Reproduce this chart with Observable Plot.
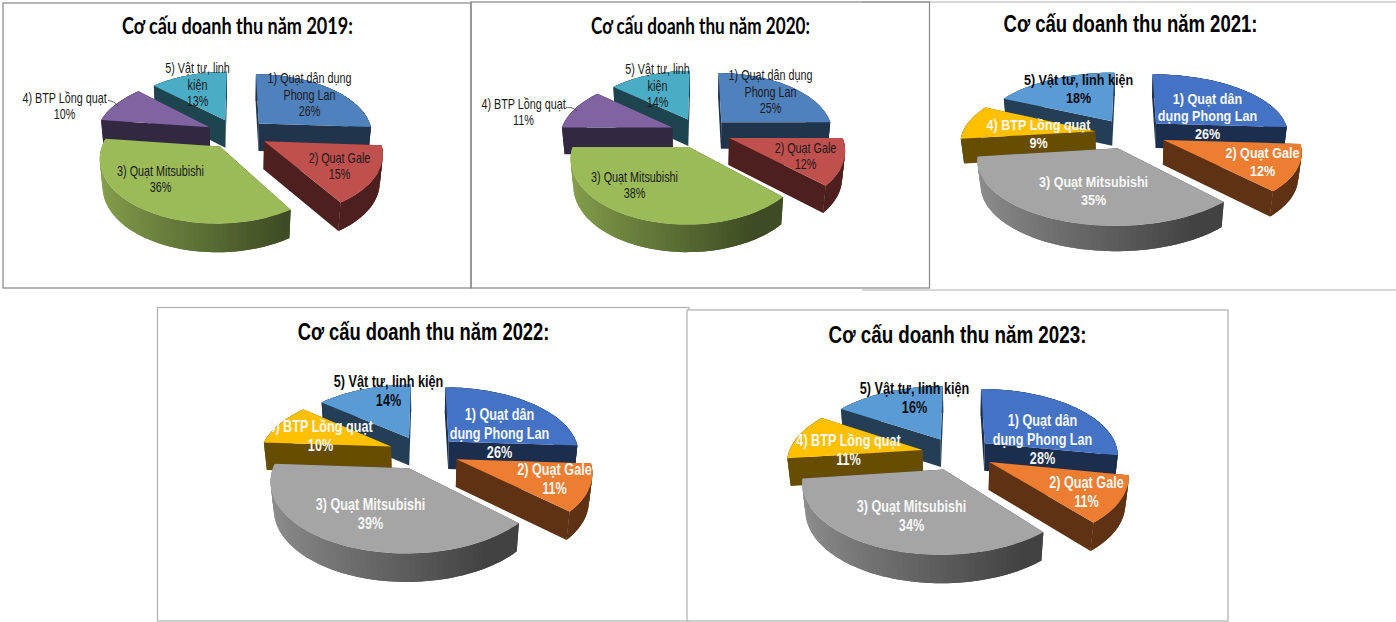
<!DOCTYPE html>
<html>
<head>
<meta charset="utf-8">
<style>html,body{margin:0;padding:0;background:#fff;overflow:hidden}svg{display:block}</style>
<script src="https://cdn.jsdelivr.net/npm/d3@7"></script>
<script src="https://cdn.jsdelivr.net/npm/@observablehq/plot@0.6"></script>
</head>
<body>
<div id="chart"></div>
<script>
const years = [2019, 2020, 2021, 2022, 2023];
const shares2019 = [26, 15, 36, 10, 13];
const shares2020 = [25, 12, 38, 11, 14];
const shares2021 = [26, 12, 35, 9, 18];
const shares2022 = [26, 11, 39, 10, 14];
const shares2023 = [28, 11, 34, 11, 16];
const sharesByPanel = [shares2019, shares2020, shares2021, shares2022, shares2023];

const namesWrappedA = ["1) Quạt dân dụng\nPhong Lan", "2) Quạt Gale", "3) Quạt Mitsubishi", "4) BTP Lồng quạt", "5) Vật tư, linh\nkiện"];
const namesWrappedB = ["1) Quạt dân\ndụng Phong Lan", "2) Quạt Gale", "3) Quạt Mitsubishi", "4) BTP Lồng quạt", "5) Vật tư, linh kiện"];

const paletteOld = ["#4f81bd", "#c0504d", "#9bbb59", "#8064a2", "#4bacc6"];
const paletteNew = ["#4472c4", "#ed7d31", "#a5a5a5", "#ffc000", "#5b9bd5"];

// layout, one entry per panel
const pieLayout = [
  {cx: 236.5, cy: 133, rx: 114, ry: 60, d: 28},
  {cx: 700, cy: 132, rx: 112, ry: 60, d: 27},
  {cx: 1130, cy: 133, rx: 133, ry: 60, d: 25},
  {cx: 423, cy: 452, rx: 131, ry: 66, d: 28},
  {cx: 957, cy: 453, rx: 134, ry: 66, d: 28}
];
const titleLayout = [[237, 26], [700, 26], [1130, 24], [423, 332], [957, 335]];
const titleWidths = [231, 219, 254, 252, 258];
const labelLayout = [
  [[309, 94], [339, 165], [160, 178], [64, 105], [197, 84]],
  [[770, 91], [805, 155], [634, 184], [523, 111], [657, 85]],
  [[1207, 115], [1262, 161], [1093, 190], [1038, 133], [1078, 88]],
  [[499, 432], [554, 478], [370, 513], [320, 435], [388, 390]],
  [[1042, 438], [1086, 491], [911, 515], [848, 449], [914, 397]]
];
const leaderLines = [
  [[108, 100], [113, 101], [117, 105]],
  [[566, 107], [572, 107], [576, 110]]
];

const explodeX = 0.27, explodeY = 0.25, persp = 0.16, step = Math.PI / 90;

function project(p, X, Y, z) {
  const s = 1 / (1 - persp * Y + 0.02 * z);
  return [p.cx + p.rx * X * s, p.cy + p.ry * Y * s + p.d * z * Math.sqrt(s)];
}
function shade(color, f) {
  const c = d3.rgb(color);
  return d3.rgb(c.r * f, c.g * f, c.b * f).formatHex();
}

const faces = [];
function addFace(id, color, pts) {
  pts.forEach(([x, y]) => faces.push({id, color, x, y}));
}

const paintOrder = [4, 3, 0, 1, 2];
sharesByPanel.forEach((shares, pi) => {
  const p = pieLayout[pi];
  const palette = pi < 2 ? paletteOld : paletteNew;
  const total = d3.sum(shares);
  const cum = d3.cumsum(shares);
  paintOrder.forEach(i => {
    const a0 = (cum[i] - shares[i]) / total * 2 * Math.PI;
    const a1 = cum[i] / total * 2 * Math.PI;
    const mid = (a0 + a1) / 2;
    const ox = explodeX * Math.sin(mid), oy = -explodeY * Math.cos(mid);
    const pt = (a, z) => project(p, ox + Math.sin(a), oy - Math.cos(a), z);
    const apex = z => project(p, ox, oy, z);
    const n = Math.max(2, Math.ceil((a1 - a0) / step));
    const angles = d3.range(n + 1).map(k => a0 + (a1 - a0) * k / n);
    const base = palette[i];
    const dark = shade(base, 0.4);
    const key = `${pi}-${i}`;
    const wall = (j) => {
      const a = angles[j], b = angles[Math.min(j + 2, n)];
      const X = Math.sin((angles[j] + angles[j + 1]) / 2);
      const f = i === 2 ? 0.4 + 0.47 * Math.min(1, Math.max(0, (0.5 - X) / 1.5)) : 0.4;
      addFace(`${key}-w${j}`, shade(base, f), [pt(a, 0), pt((a + b) / 2, 0), pt(b, 0), pt(b, 1), pt((a + b) / 2, 1), pt(a, 1), pt(a, 0)]);
    };
    const js = d3.range(n);
    js.forEach(j => { if (Math.cos((angles[j] + angles[j + 1]) / 2) > 0) wall(j); });
    const cuts = [a0, a1].map((a, j) => ({a, j, depth: oy - Math.cos(a) / 2})).sort((u, v) => u.depth - v.depth);
    cuts.forEach(({a, j}) => addFace(`${key}-c${j}`, dark, [apex(0), pt(a, 0), pt(a, 1), apex(1), apex(0)]));
    js.forEach(j => { if (Math.cos((angles[j] + angles[j + 1]) / 2) <= 0) wall(j); });
    addFace(`${key}-t`, base, [apex(0), ...angles.map(a => pt(a, 0)), apex(0)]);
  });
});

const leaders = leaderLines.flatMap((l, id) => l.map(([x, y]) => ({id, x, y})));
const titles = years.map((y, i) => ({text: `Cơ cấu doanh thu năm ${y}:`, x: titleLayout[i][0], y: titleLayout[i][1], i}));
const labels = sharesByPanel.flatMap((shares, pi) => shares.map((v, i) => {
  const names = pi < 2 ? namesWrappedA : namesWrappedB;
  const light = pi >= 2 && i !== 4;
  return {text: `${names[i]}\n${v}%`, x: labelLayout[pi][i][0], y: labelLayout[pi][i][1], pi, color: light ? "#f8f8f8" : "#0a0a0a"};
}));

const arial = "'Liberation Sans',sans-serif";
const frameDark = "#858585", frameLight = "#b0b0b0";

const chart = Plot.plot({
  width: 1396, height: 622, margin: 0,
  x: {domain: [0, 1396], range: [0, 1396], axis: null},
  y: {domain: [0, 622], range: [0, 622], axis: null},
  style: {background: "#fff"},
  marks: [
    // panel frames (left, top, right, bottom)
    Plot.ruleY([1.5, 289.5], {x1: 862, x2: 1396, stroke: frameLight, strokeWidth: 1.2}),
    Plot.rect([[3, 3, 471, 288], [471, 2, 929.5, 288]], {x1: d => d[0], y1: d => d[1], x2: d => d[2], y2: d => d[3], fill: "none", stroke: frameDark, strokeWidth: 1.2}),
    Plot.rect([[157.5, 307.5, 689, 621]], {x1: d => d[0], y1: d => d[1], x2: d => d[2], y2: d => d[3], fill: "#fff", stroke: frameLight, strokeWidth: 1.2}),
    Plot.rect([[687, 310, 1228, 621]], {x1: d => d[0], y1: d => d[1], x2: d => d[2], y2: d => d[3], fill: "#fff", stroke: frameLight, strokeWidth: 1.2}),
    Plot.line(faces, {x: "x", y: "y", z: "id", fill: "color", stroke: null, curve: "linear"}),
    Plot.line(leaders, {x: "x", y: "y", z: "id", stroke: "#333", strokeWidth: 0.8, curve: "basis"}),
    Plot.text(labels.filter(d => d.pi < 2), {className: "lbl-a", x: "x", y: "y", text: "text", fill: "#1a1a1a", fontFamily: arial, fontSize: 14, lineHeight: 1.19, lineAnchor: "middle"}),
    Plot.text(labels.filter(d => d.pi === 2), {className: "lbl-b", x: "x", y: "y", text: "text", fill: "color", fontFamily: arial, fontWeight: "bold", fontSize: 15, lineHeight: 1.17, lineAnchor: "middle"}),
    Plot.text(labels.filter(d => d.pi > 2), {className: "lbl-c", x: "x", y: "y", text: "text", fill: "color", fontFamily: arial, fontWeight: "bold", fontSize: 16, lineHeight: 1.19, lineAnchor: "middle"}),
    Plot.text(titles.filter(d => d.i < 2), {className: "ttl", x: "x", y: "y", text: "text", fill: "#000", fontFamily: "Lato,sans-serif", fontWeight: "bold", fontSize: 22, lineAnchor: "middle"}),
    Plot.text(titles.filter(d => d.i >= 2), {className: "ttl", x: "x", y: "y", text: "text", fill: "#000", fontFamily: arial, fontWeight: "bold", fontSize: 23, lineAnchor: "middle"})
  ]
});
document.getElementById("chart").append(chart);

// The reference sets its text in a condensed face: squeeze the real text horizontally.
const squeeze = (el, sx) => el.setAttribute("transform", `${el.getAttribute("transform") || ""} scale(${sx},1)`);
chart.querySelectorAll(".lbl-a text").forEach(el => squeeze(el, 0.77));
chart.querySelectorAll(".lbl-b text").forEach(el => squeeze(el, 0.84));
chart.querySelectorAll(".lbl-c text").forEach(el => squeeze(el, 0.79));
chart.querySelectorAll(".ttl text").forEach((el, i) => squeeze(el, titleWidths[i] / el.getComputedTextLength()));
</script>
</body>
</html>
